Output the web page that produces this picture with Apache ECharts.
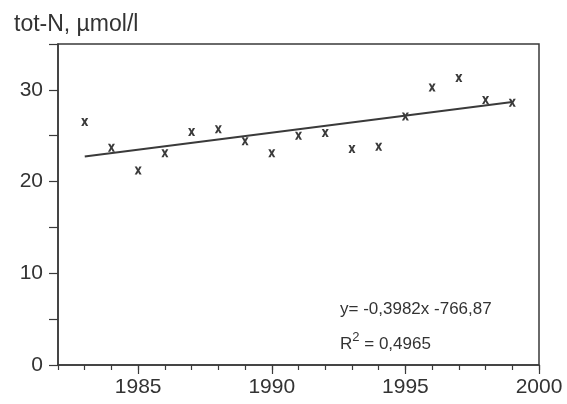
<!DOCTYPE html>
<html>
<head>
<meta charset="utf-8">
<script src="https://cdn.jsdelivr.net/npm/echarts@6/dist/echarts.min.js"></script>
<style>
  html, body { margin: 0; padding: 0; background: #fff; }
  #main { width: 567px; height: 404px; }
</style>
</head>
<body>
<div id="main"></div>
<script>
// tot-N per year
var years = [1983, 1984, 1985, 1986, 1987, 1988, 1989, 1990, 1991,
             1992, 1993, 1994, 1995, 1996, 1997, 1998, 1999];
var totN = [26.5, 23.7, 21.2, 23.1, 25.4, 25.7, 24.4, 23.1, 25.0,
            25.3, 23.55, 23.8, 27.1, 30.25, 31.3, 28.9, 28.6];
var xLabels = [1985, 1990, 1995, 2000];
var yLabels = [0, 10, 20, 30];
var yearTicks = [];
for (var y = 1982; y <= 2000; y++) yearTicks.push(y);

// least squares trend line
function fit(xs, ys) {
    var n = xs.length, mx = 0, my = 0;
    for (var i = 0; i < n; i++) { mx += xs[i]; my += ys[i]; }
    mx /= n; my /= n;
    var sxy = 0, sxx = 0;
    for (var i = 0; i < n; i++) {
        sxy += (xs[i] - mx) * (ys[i] - my);
        sxx += (xs[i] - mx) * (xs[i] - mx);
    }
    var b = sxy / sxx;
    return { a: my - b * mx, b: b };
}
var f = fit(years, totN);
var x0 = years[0], x1 = years[years.length - 1];
var trend = [[x0, f.a + f.b * x0], [x1, f.a + f.b * x1]];

var ink = '#3a3a3a';
var font = 'Liberation Sans, Arial, sans-serif';
// bold "x" marker
var xMark = 'path://M0,0 L3.2,0 L5,3 L6.8,0 L10,0 L6.7,5 L10,10 L6.8,10 L5,7 L3.2,10 L0,10 L3.3,5 Z';

var chart = echarts.init(document.getElementById('main'));
var option = {
    backgroundColor: '#fff',
    animation: false,
    grid: {
        left: 58, right: 28, top: 44, bottom: 39,
        show: true, borderColor: ink, borderWidth: 1.5
    },
    title: {
        text: 'tot-N, µmol/l',
        left: 9, top: 8,
        textStyle: { fontFamily: font, fontSize: 23, fontWeight: 'normal', color: '#333' }
    },
    xAxis: [{
        type: 'value', min: 1982, max: 2000, interval: 1,
        splitLine: { show: false },
        axisLine: { onZero: false, lineStyle: { color: ink, width: 1.5 } },
        axisTick: { customValues: yearTicks, length: 5, lineStyle: { color: ink, width: 1.2 } },
        axisLabel: {
            customValues: xLabels, margin: 12,
            fontFamily: font, fontSize: 21, color: '#333',
            formatter: function (v) { return String(v); }
        }
    }, {
        type: 'value', min: 1982, max: 2000, position: 'bottom',
        splitLine: { show: false },
        axisLine: { show: false },
        axisTick: { customValues: xLabels, length: 9, lineStyle: { color: ink, width: 1.2 } },
        axisLabel: { show: false }
    }],
    yAxis: {
        type: 'value', min: 0, max: 35, interval: 5,
        splitLine: { show: false },
        axisLine: { show: true, lineStyle: { color: ink, width: 1.5 } },
        axisTick: { length: 9, lineStyle: { color: ink, width: 1.2 } },
        axisLabel: {
            margin: 15, fontFamily: font, fontSize: 21, color: '#333',
            formatter: function (v) { return yLabels.indexOf(v) >= 0 ? String(v) : ''; }
        }
    },
    graphic: [{
        type: 'text', left: 340, top: 301,
        style: {
            text: 'y= -0,3982x -766,87',
            font: '17px ' + font, fill: '#333'
        }
    }, {
        type: 'text', left: 340, top: 331,
        style: {
            text: '{a|R}{s|2}{a| = 0,4965}',
            rich: {
                a: { font: '17px ' + font, fill: '#333', verticalAlign: 'bottom', lineHeight: 22 },
                s: { font: '13px ' + font, fill: '#333', verticalAlign: 'top', lineHeight: 22 }
            }
        }
    }],
    series: [{
        name: 'trend',
        type: 'line',
        data: trend,
        symbol: 'none',
        lineStyle: { color: ink, width: 2 },
        silent: true
    }, {
        name: 'tot-N',
        type: 'scatter',
        data: years.map(function (yr, i) { return [yr, totN[i]]; }),
        symbol: xMark,
        symbolSize: [7, 8],
        itemStyle: { color: ink, opacity: 1 },
        z: 3
    }]
};
chart.setOption(option);
</script>
</body>
</html>
